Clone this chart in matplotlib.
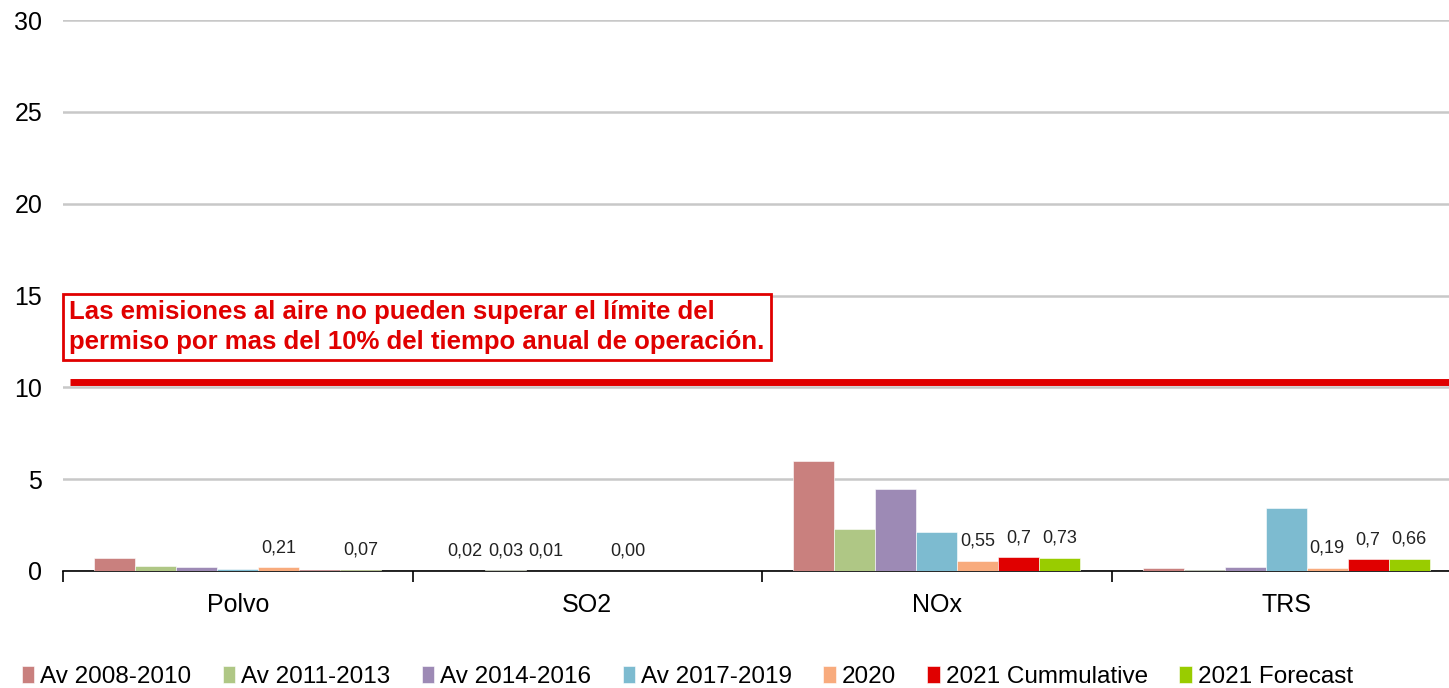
import numpy as np
import matplotlib
matplotlib.use("Agg")
import matplotlib.pyplot as plt

plt.rcParams['font.family'] = ['Liberation Sans', 'DejaVu Sans']

categories = ['Polvo', 'SO2', 'NOx', 'TRS']
series = ['Av 2008-2010', 'Av 2011-2013', 'Av 2014-2016', 'Av 2017-2019',
          '2020', '2021 Cummulative', '2021 Forecast']
colors = ['#C9807E', '#AFC785', '#9D8AB5', '#7DBBD0', '#F8AB7D', '#E00000', '#99CC00']

av_2008_2010 = [0.69, 0.02, 6.0, 0.15]
av_2011_2013 = [0.29, 0.03, 2.29, 0.07]
av_2014_2016 = [0.20, 0.01, 4.46, 0.20]
av_2017_2019 = [0.11, 0.0, 2.12, 3.43]
y2020 = [0.21, 0.00, 0.55, 0.19]
y2021_cum = [0.05, 0.0, 0.76, 0.65]
y2021_fc = [0.07, 0.0, 0.73, 0.66]

# data labels as shown (None = no label)
labels_2008 = [None, '0,02', None, None]
labels_2011 = [None, '0,03', None, None]
labels_2014 = [None, '0,01', None, None]
labels_2017 = [None, None, None, None]
labels_2020 = ['0,21', '0,00', '0,55', '0,19']
labels_cum = [None, None, '0,7', '0,7']
labels_fc = ['0,07', None, '0,73', '0,66']

values = [av_2008_2010, av_2011_2013, av_2014_2016, av_2017_2019, y2020, y2021_cum, y2021_fc]
labels = [labels_2008, labels_2011, labels_2014, labels_2017, labels_2020, labels_cum, labels_fc]

limit = 10.3
note = ("Las emisiones al aire no pueden superar el límite del\n"
        "permiso por mas del 10% del tiempo anual de operación.")

W, H = 1449, 688
fig = plt.figure(figsize=(W / 100, H / 100), dpi=100)
ax_left, ax_right = 63, 1461
ax_bottom, ax_top = 571, 20
ax = fig.add_axes([ax_left / W, 1 - ax_bottom / H, (ax_right - ax_left) / W, (ax_bottom - ax_top) / H])

n = len(series)
group_w = 0.82
bw = group_w / n
x = np.arange(len(categories))
for i, (vals, labs) in enumerate(zip(values, labels)):
    pos = x - group_w / 2 + bw * (i + 0.5)
    ax.bar(pos, vals, width=bw, color=colors[i], label=series[i], zorder=3,
           edgecolor='white', linewidth=0.4)
    for p, v, lab in zip(pos, vals, labs):
        if lab is not None:
            ax.text(p, v + 0.6, lab, ha='center', va='bottom', fontsize=13, color='#222222')

ax.set_xlim(-0.5, len(categories) - 0.5)
ax.set_ylim(0, 30)
ax.set_yticks(range(0, 31, 5))
ax.yaxis.grid(True, color='#C8C8C8', linewidth=1.8, zorder=0)
ax.set_axisbelow(True)
for s in ['left', 'right', 'top']:
    ax.spines[s].set_visible(False)
ax.spines['bottom'].set_color('black')
ax.spines['bottom'].set_linewidth(1.2)
ax.tick_params(axis='y', length=0, labelsize=18, pad=15)
ax.set_xticks(np.arange(len(categories) + 1) - 0.5)
ax.set_xticklabels([])
ax.set_xticks(x, minor=True)
ax.set_xticklabels(categories, minor=True, fontsize=18)
ax.tick_params(axis='x', which='major', length=8, width=1.2, direction='out')
ax.tick_params(axis='x', which='minor', length=0, pad=16)

# limit line
ax.plot([-0.48, 3.5], [limit, limit], color='#E00000', linewidth=5, zorder=4,
        solid_capstyle='butt', clip_on=False)

ax.text(-0.482, 14.75, note, ha='left', va='top', fontsize=18.5, fontweight='bold',
        color='#E00000', linespacing=1.3, zorder=5,
        bbox=dict(boxstyle='square,pad=0.25', facecolor='white', edgecolor='#E00000', linewidth=2))

leg = fig.legend(loc='lower left', bbox_to_anchor=(12 / W, -0.014), ncol=n, frameon=False,
                 fontsize=17.5, handlelength=0.5, handleheight=0.75, handletextpad=0.25,
                 columnspacing=1.3, borderaxespad=0)

fig.savefig('out.png', dpi=100)
